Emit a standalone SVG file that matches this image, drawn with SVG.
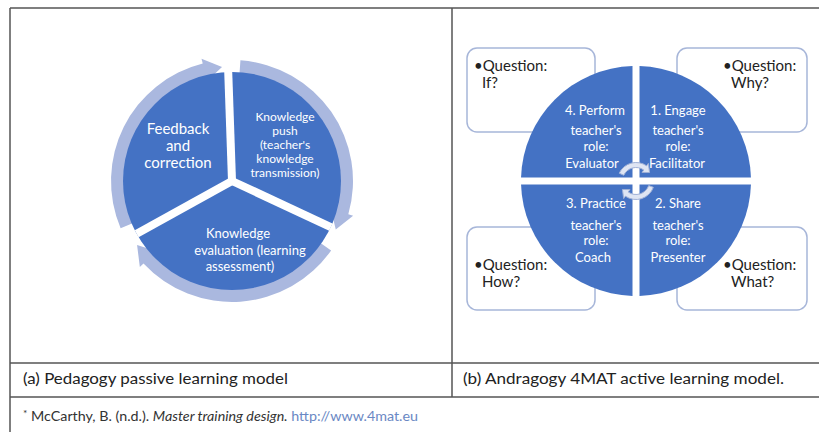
<svg xmlns="http://www.w3.org/2000/svg" width="819" height="432" viewBox="0 0 819 432">
  <style>
    .grid { stroke: #555; stroke-width: 1.5; fill: none; }
    .seg { fill: #4472c4; }
    .band { fill: #aab8df; }
    .gap { stroke: #fff; stroke-width: 8; }
    .lbl { font-family: Lato, "Liberation Sans", sans-serif; fill: #fff; text-anchor: middle; }
    .box { fill: #fff; stroke: #a7b6d9; stroke-width: 1.5; }
    .q { font-family: Lato, "Liberation Sans", sans-serif; font-size: 15px; fill: #222; }
    .cap { font-family: Lato, "Liberation Sans", sans-serif; font-size: 16px; fill: #222; }
    .ref { font-family: Lato, "Liberation Sans", sans-serif; font-size: 12.5px; fill: #333; }
    .spin { fill: #dfe5f3; stroke: #9fb0d6; stroke-width: 1; }
  </style>

  <rect width="819" height="432" fill="#fff"/>

  <!-- table frame -->
  <g id="table">
    <line class="grid" x1="10" y1="8" x2="819" y2="8" stroke="#777" stroke-width="2"/>
    <line class="grid" x1="10" y1="8" x2="10" y2="432"/>
    <line class="grid" x1="452" y1="8" x2="452" y2="397"/>
    <line class="grid" x1="10" y1="363" x2="819" y2="363"/>
    <line class="grid" x1="10" y1="397" x2="819" y2="397"/>
  </g>

  <!-- (a) segmented cycle -->
  <g id="cycle-arrows">
    <path class="band" d="M120.62,228.27 A121,121 0 0 1 202.73,63.60 L201.52,58.74 L222.02,66.94 L207.08,81.06 L205.87,76.21 A108,108 0 0 0 132.59,223.20 Z"/>
    <path class="band" d="M240.44,60.29 A121,121 0 0 1 348.32,214.35 L353.12,215.73 L335.77,229.39 L331.01,209.39 L335.82,210.76 A108,108 0 0 0 239.53,73.26 Z"/>
    <path class="band" d="M331.12,250.41 A121,121 0 0 1 143.50,263.52 L139.84,266.93 L137.08,245.03 L156.67,251.25 L153.01,254.66 A108,108 0 0 0 320.47,242.95 Z"/>
  </g>

  <g id="pie">
    <circle class="seg" cx="232" cy="181" r="109"/>
    <line class="gap" x1="232" y1="181" x2="228.2" y2="71.1"/>
    <line class="gap" x1="232" y1="181" x2="330.8" y2="227.1"/>
    <line class="gap" x1="232" y1="181" x2="136.7" y2="233.8"/>
  </g>

  <g id="node-feedback">
    <text class="lbl" font-size="15" x="178" y="134">Feedback</text>
    <text class="lbl" font-size="15" x="178" y="151">and</text>
    <text class="lbl" font-size="15" x="178" y="168">correction</text>
  </g>

  <g id="node-push">
    <text class="lbl" font-size="12" x="285" y="121">Knowledge</text>
    <text class="lbl" font-size="12" x="285" y="135">push</text>
    <text class="lbl" font-size="12" x="285" y="149">(teacher's</text>
    <text class="lbl" font-size="12" x="285" y="163">knowledge</text>
    <text class="lbl" font-size="12" x="285" y="177">transmission)</text>
  </g>

  <g id="node-evaluation">
    <text class="lbl" font-size="13" x="238" y="238">Knowledge</text>
    <text class="lbl" font-size="13" x="250" y="255">evaluation (learning</text>
    <text class="lbl" font-size="13" x="240" y="271">assessment)</text>
  </g>

  <!-- (b) 4MAT quadrants -->
  <g id="q-if">
    <rect class="box" x="467" y="48" width="128" height="84" rx="10"/>
    <text class="q" x="474" y="71">•Question:</text>
    <text class="q" x="482" y="88">If?</text>
  </g>
  <g id="q-why">
    <rect class="box" x="677" y="48" width="130" height="84" rx="10"/>
    <text class="q" x="723" y="71">•Question:</text>
    <text class="q" x="731" y="88">Why?</text>
  </g>
  <g id="q-how">
    <rect class="box" x="467" y="227" width="128" height="83" rx="10"/>
    <text class="q" x="474" y="270">•Question:</text>
    <text class="q" x="482" y="287">How?</text>
  </g>
  <g id="q-what">
    <rect class="box" x="677" y="227" width="130" height="83" rx="10"/>
    <text class="q" x="723" y="270">•Question:</text>
    <text class="q" x="731" y="287">What?</text>
  </g>

  <g id="perform">
    <path class="seg" d="M632.5,177.5 V66.05 A115,115 0 0 0 521.05,177.5 Z"/>
    <text class="lbl" font-size="13" x="595" y="115">4. Perform</text>
    <text class="lbl" font-size="13" x="596" y="135">teacher's</text>
    <text class="lbl" font-size="13" x="596" y="151">role:</text>
    <text class="lbl" font-size="13" x="592" y="168">Evaluator</text>
  </g>
  <g id="engage">
    <path class="seg" d="M639.5,177.5 V66.05 A115,115 0 0 1 750.95,177.5 Z"/>
    <text class="lbl" font-size="13" x="678" y="115">1. Engage</text>
    <text class="lbl" font-size="13" x="678" y="135">teacher's</text>
    <text class="lbl" font-size="13" x="678" y="151">role:</text>
    <text class="lbl" font-size="13" x="677" y="168">Facilitator</text>
  </g>
  <g id="practice">
    <path class="seg" d="M632.5,184.5 V295.95 A115,115 0 0 1 521.05,184.5 Z"/>
    <text class="lbl" font-size="13" x="596" y="208">3. Practice</text>
    <text class="lbl" font-size="13" x="596" y="230">teacher's</text>
    <text class="lbl" font-size="13" x="596" y="245">role:</text>
    <text class="lbl" font-size="13" x="593" y="262">Coach</text>
  </g>
  <g id="share">
    <path class="seg" d="M639.5,184.5 V295.95 A115,115 0 0 0 750.95,184.5 Z"/>
    <text class="lbl" font-size="13" x="678" y="208">2. Share</text>
    <text class="lbl" font-size="13" x="678" y="230">teacher's</text>
    <text class="lbl" font-size="13" x="678" y="245">role:</text>
    <text class="lbl" font-size="13" x="678" y="262">Presenter</text>
  </g>

  <!-- circular arrows at the hub -->
  <g id="connectors">
    <path class="spin" d="M619.23,173.18 A18.5,18.5 0 0 1 646.61,165.84 L648.33,163.39 L649.57,172.52 L642.02,172.40 L643.74,169.94 A13.5,13.5 0 0 0 623.76,175.29 Z"/>
    <path class="spin" d="M653.38,187.33 A18.5,18.5 0 0 1 625.39,196.16 L623.67,198.61 L622.43,189.48 L629.98,189.60 L628.26,192.06 A13.5,13.5 0 0 0 648.69,185.62 Z"/>
  </g>

  <!-- captions -->
  <text class="cap" x="23" y="384" textLength="265" lengthAdjust="spacingAndGlyphs">(a) Pedagogy passive learning model</text>
  <text class="cap" x="463" y="384" textLength="321" lengthAdjust="spacingAndGlyphs">(b) Andragogy 4MAT active learning model.</text>
  <text class="ref" x="23" y="421" textLength="395" lengthAdjust="spacingAndGlyphs"><tspan font-size="9" dy="-4">*</tspan><tspan dy="4"> McCarthy, B. (n.d.). </tspan><tspan font-style="italic">Master training design.</tspan> <tspan fill="#6a88c4">http://www.4mat.eu</tspan></text>
</svg>
